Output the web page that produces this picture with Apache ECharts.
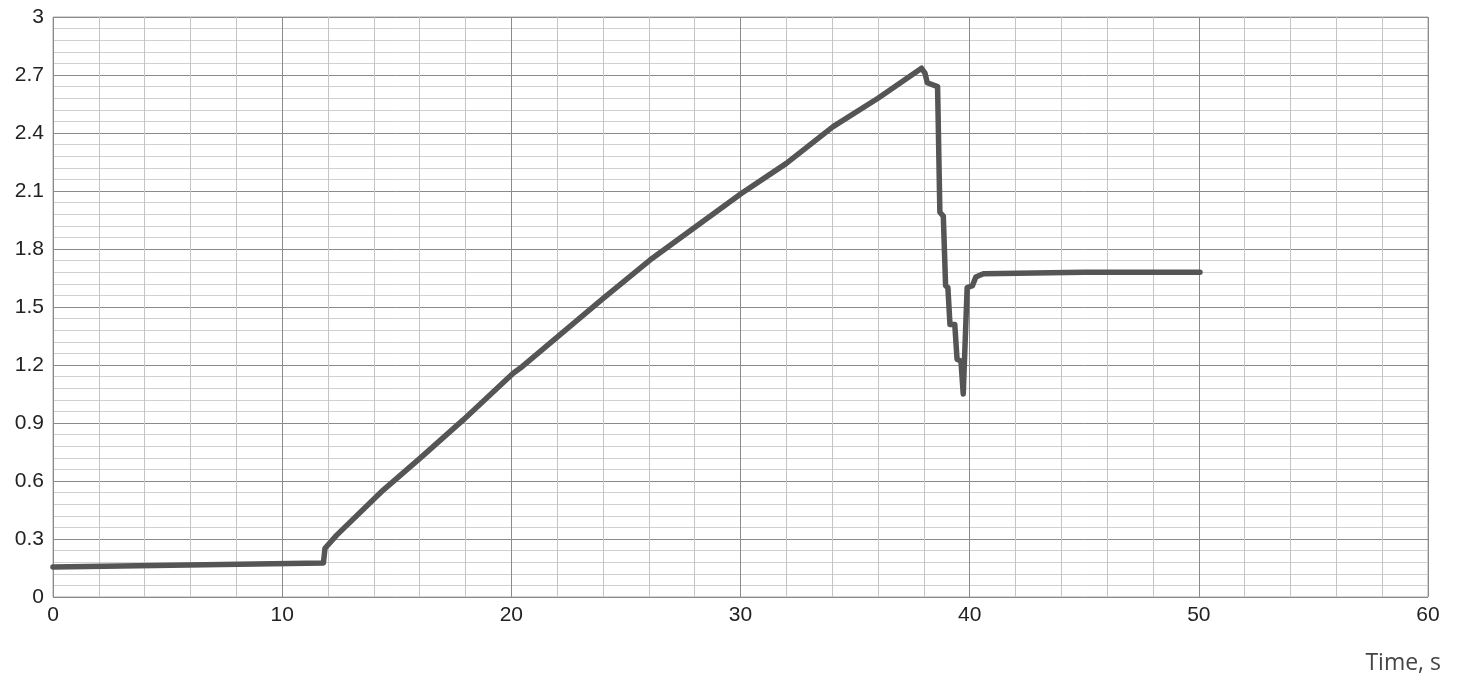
<!DOCTYPE html>
<html>
<head>
<meta charset="utf-8">
<script src="https://cdn.jsdelivr.net/npm/echarts@6/dist/echarts.min.js"></script>
<style>html,body{margin:0;padding:0;background:#fff;}#c{width:1463px;height:682px;}</style>
</head>
<body>
<div id="c"></div>
<script>
const timeS = [0, 11.8, 11.87, 12.38, 14.41, 16.01, 17.9, 20.08, 20.38, 24.01, 26.05, 30.05, 32.0, 34.04, 36.0, 37.9, 37.98, 38.05, 38.15, 38.6, 38.7, 38.85, 38.95, 39.05, 39.14, 39.35, 39.45, 39.62, 39.72, 39.79, 39.89, 40.12, 40.27, 40.6, 45, 50.05];
const values = [0.155, 0.176, 0.252, 0.32, 0.553, 0.717, 0.916, 1.157, 1.183, 1.545, 1.743, 2.088, 2.243, 2.433, 2.58, 2.735, 2.745, 2.71, 2.66, 2.64, 1.99, 1.97, 1.61, 1.60, 1.41, 1.41, 1.23, 1.22, 1.05, 1.04, 1.60, 1.61, 1.655, 1.672, 1.68, 1.68];
const xTicks = [0, 10, 20, 30, 40, 50, 60];
const yTicks = [0, 0.3, 0.6, 0.9, 1.2, 1.5, 1.8, 2.1, 2.4, 2.7, 3];
const xAxisTitle = 'Time, s';

const chart = echarts.init(document.getElementById('c'), null, {renderer: 'canvas'});
const pts = timeS.map((t, i) => [t, values[i]]);
chart.setOption({
  animation: false,
  backgroundColor: '#fff',
  grid: {left: 53, right: 35, top: 17, bottom: 85, show: true, borderColor: '#aaa', borderWidth: 1},
  xAxis: {
    type: 'value', min: xTicks[0], max: xTicks[xTicks.length - 1], interval: 10,
    axisLine: {show: false}, axisTick: {show: false},
    axisLabel: {color: '#222', fontSize: 21, fontFamily: 'Liberation Sans, Arial', margin: 8,
      formatter: v => String(v)},
    splitLine: {show: true, lineStyle: {color: '#8a8a8a', width: 1}},
    minorTick: {show: false, splitNumber: 5},
    minorSplitLine: {show: true, lineStyle: {color: '#c4c4c4', width: 1}}
  },
  yAxis: {
    type: 'value', min: yTicks[0], max: yTicks[yTicks.length - 1], interval: 0.3,
    axisLine: {show: false}, axisTick: {show: false},
    axisLabel: {color: '#222', fontSize: 21, fontFamily: 'Liberation Sans, Arial', margin: 9,
      formatter: v => String(parseFloat(v.toFixed(2)))},
    splitLine: {show: true, lineStyle: {color: '#8a8a8a', width: 1}},
    minorTick: {show: false, splitNumber: 5},
    minorSplitLine: {show: true, lineStyle: {color: '#d0d0d0', width: 1}}
  },
  graphic: [{
    type: 'text', right: 22, top: 652,
    style: {text: xAxisTitle, fill: '#444', fontSize: 23, fontFamily: 'Open Sans, Noto Sans'}
  }],
  series: [{
    type: 'line', data: pts, showSymbol: false, smooth: false,
    lineStyle: {color: '#555555', width: 5.5, join: 'round', cap: 'round'}
  }]
});
</script>
</body>
</html>
